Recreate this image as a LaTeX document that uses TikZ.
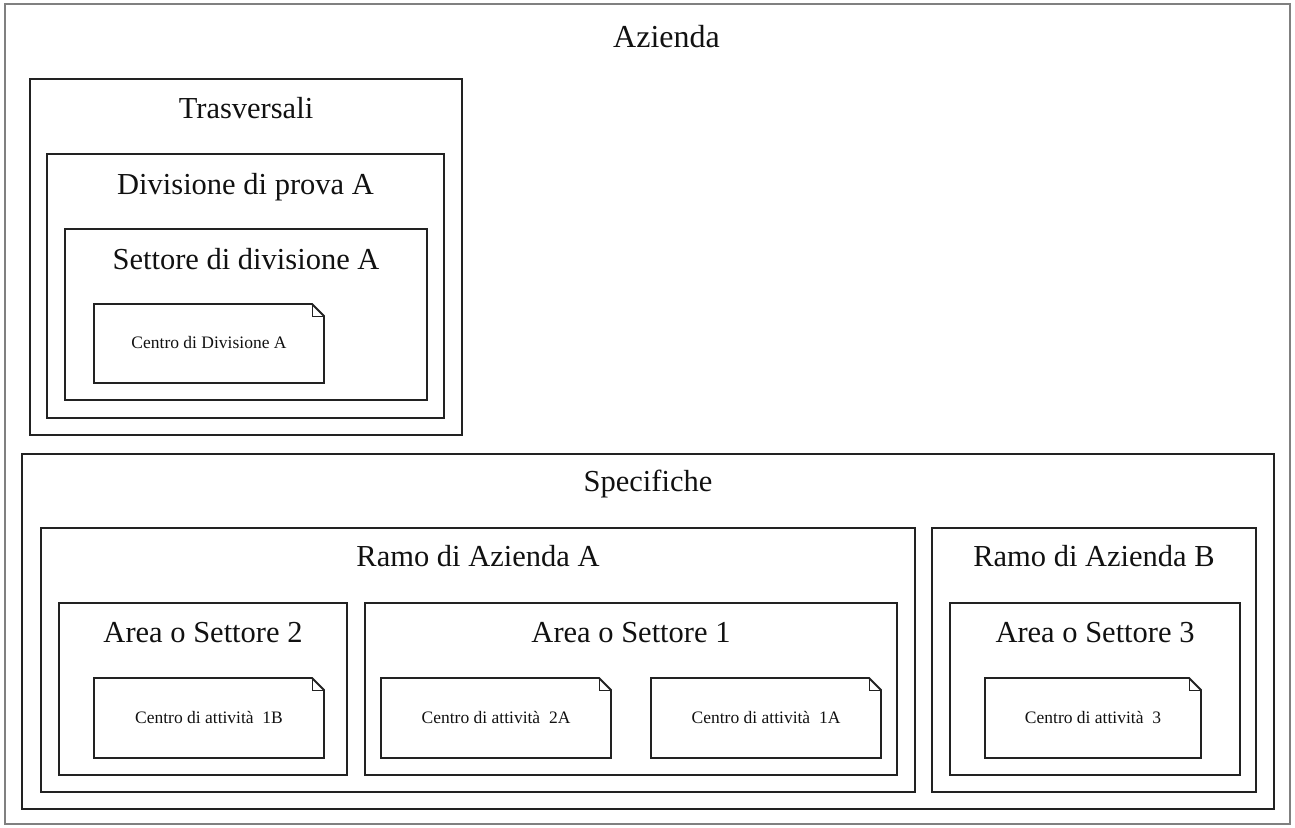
\documentclass[tikz,border=0pt]{standalone}
\usepackage{fontspec}
\setmainfont{Liberation Serif}
\usetikzlibrary{fit}
\definecolor{linecol}{HTML}{222222}
\definecolor{outercol}{HTML}{808080}
\definecolor{txtcol}{HTML}{111111}
\newcommand\notecorner[1]{%
  \draw[notedraw] (#1.north west) -- ([xshift=-12pt]#1.north east) -- ([yshift=-12pt]#1.north east) -- (#1.south east) -- (#1.south west) -- cycle;
  \draw[notedraw, line width=0.9pt] ([xshift=-12pt]#1.north east) |- ([yshift=-12pt]#1.north east);}
\begin{document}
\begin{tikzpicture}[x=1pt,y=-1pt,
  box/.style={draw=linecol, line width=1.8pt, rectangle, inner sep=0pt, outer sep=0pt},
  outerbox/.style={box, draw=outercol},
  noteframe/.style={rectangle, inner sep=0pt, outer sep=0pt},
  notedraw/.style={draw=linecol, line width=1.8pt, line join=miter},
  title/.style={anchor=base, text=txtcol, inner sep=0pt, font=\fontsize{30.5}{34}\selectfont},
  small/.style={anchor=base, text=txtcol, inner sep=0pt, font=\fontsize{17.5}{20}\selectfont}
]
\useasboundingbox (0,0) rectangle (1295,827);
% boxes
\node[outerbox, fit={(5,4) (1290,824)}] (azienda) {};
\node[box, fit={(30,79) (462,435)}] (trasv) {};
\node[box, fit={(47,154) (444,418)}] (divis) {};
\node[box, fit={(65,229) (427,400)}] (settore) {};
\node[box, fit={(22,454) (1274,809)}] (spec) {};
\node[box, fit={(41,528) (915,792)}] (ramoA) {};
\node[box, fit={(59,603) (347,775)}] (area2) {};
\node[box, fit={(365,603) (897,775)}] (area1) {};
\node[box, fit={(932,528) (1256,792)}] (ramoB) {};
\node[box, fit={(950,603) (1240,775)}] (area3) {};
% notes
\node[noteframe, fit={(94,304) (324,383)}] (cdiv) {};
\node[noteframe, fit={(94,678) (324,758)}] (c1B) {};
\node[noteframe, fit={(381,678) (611,758)}] (c2A) {};
\node[noteframe, fit={(651,678) (881,758)}] (c1A) {};
\node[noteframe, fit={(985,678) (1201,758)}] (c3) {};
\notecorner{cdiv}
\notecorner{c1B}
\notecorner{c2A}
\notecorner{c1A}
\notecorner{c3}
% titles
\node[title, font=\fontsize{32}{36}\selectfont] (tazienda) at ([xshift=19pt,yshift=-43pt]azienda.north) {Azienda};
\node[title] (ttrasv) at ([yshift=-39pt]trasv.north) {Trasversali};
\node[title] (tdivis) at ([yshift=-40pt]divis.north) {Divisione di prova A};
\node[title] (tsettore) at ([yshift=-40pt]settore.north) {Settore di divisione A};
\node[title] (tspec) at ([yshift=-37pt]spec.north) {Specifiche};
\node[title] (tramoA) at ([yshift=-38pt]ramoA.north) {Ramo di Azienda A};
\node[title] (tarea2) at ([yshift=-39pt]area2.north) {Area o Settore 2};
\node[title] (tarea1) at ([yshift=-39pt]area1.north) {Area o Settore 1};
\node[title] (tramoB) at ([yshift=-38pt]ramoB.north) {Ramo di Azienda B};
\node[title] (tarea3) at ([yshift=-39pt]area3.north) {Area o Settore 3};
% note texts
\node[small] (lcdiv) at ([yshift=-5pt]cdiv.center) {Centro di Divisione A};
\node[small] (lc1B) at ([yshift=-5pt]c1B.center) {Centro di attività\ \ 1B};
\node[small] (lc2A) at ([yshift=-5pt]c2A.center) {Centro di attività\ \ 2A};
\node[small] (lc1A) at ([yshift=-5pt]c1A.center) {Centro di attività\ \ 1A};
\node[small] (lc3) at ([yshift=-5pt]c3.center) {Centro di attività\ \ 3};
\end{tikzpicture}
\end{document}
